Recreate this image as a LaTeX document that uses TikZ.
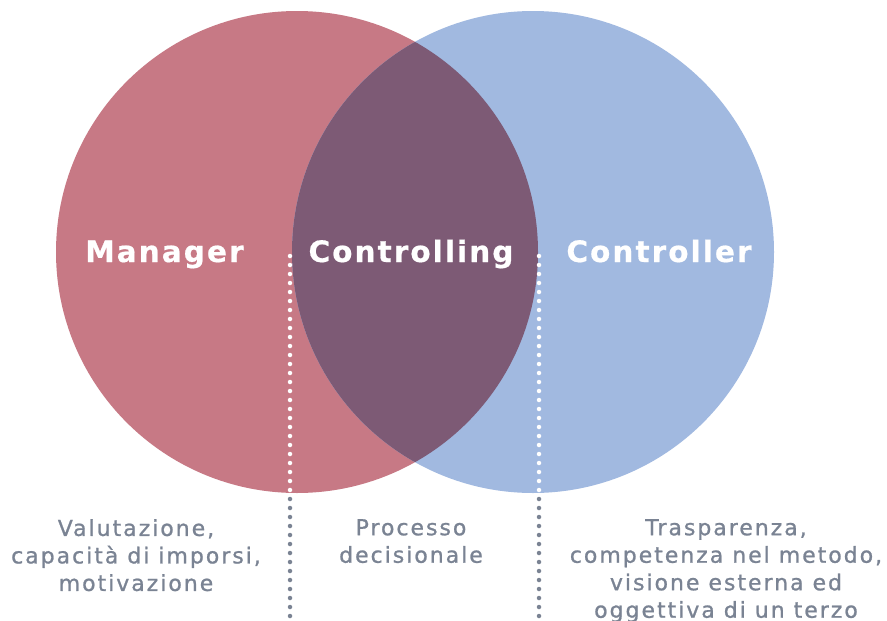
\documentclass[tikz,border=0pt]{standalone}
\usepackage{fontspec}
\usepackage{xcolor}
\usepackage{tikz}
\setmainfont{DejaVu Sans}
\newfontfamily\titlefont[LetterSpace=7,FakeBold=0.6]{DejaVu Sans Bold}
\newfontfamily\notefont[LetterSpace=9,FakeBold=1]{DejaVu Sans}
\definecolor{mgr}{HTML}{C77985}
\definecolor{ctl}{HTML}{A1B9E0}
\definecolor{both}{HTML}{7D5A75}
\definecolor{note}{HTML}{7A8393}
\tikzset{
  disc/.style={line width=0pt},
  title/.style={text=white, font=\titlefont\fontsize{29.5}{29.5}\selectfont, anchor=base, inner sep=0pt},
  notebox/.style={text=note, font=\notefont\fontsize{22}{27.5}\selectfont, align=center, anchor=north, inner sep=0pt},
  dots/.style={line width=4.5pt, line cap=round, dash pattern=on 0pt off 9pt},
  dotin/.style={dots, draw=white},
  dotout/.style={dots, draw=note}
}
\begin{document}
\begin{tikzpicture}[x=1pt,y=-1pt]
  \useasboundingbox (0,0) rectangle (887,621);
  \def\r{241}
  \coordinate (L) at (297,252);
  \coordinate (R) at (533,252);
  % circles and overlap
  \fill[mgr,disc] (L) circle (\r);
  \fill[ctl,disc] (R) circle (\r);
  \begin{scope}
    \clip (L) circle (\r);
    \fill[both,disc] (R) circle (\r);
  \end{scope}
  % dotted guides
  \coordinate (a1) at (290,256);
  \coordinate (a2) at (290,490);
  \coordinate (a3) at (290,499);
  \coordinate (a4) at (290,625);
  \coordinate (b1) at (539,256);
  \coordinate (b2) at (539,490);
  \coordinate (b3) at (539,499);
  \coordinate (b4) at (539,625);
  \draw[dotin] (a1) -- (a2);
  \draw[dotout] (a3) -- (a4);
  \draw[dotin] (b1) -- (b2);
  \draw[dotout] (b3) -- (b4);
  % titles
  \node[title] (manager) at (164.5,262) {Manager};
  \node[title] (controlling) at (411,262) {Controlling};
  \node[title] (controller) at (659,262) {Controller};
  % notes
  \node[notebox] (valut) at (136,519) {Valutazione,\\capacità di imporsi,\\motivazione};
  \node[notebox] (proc) at (411,519) {Processo\\decisionale};
  \node[notebox] (trasp) at (726,519) {Trasparenza,\\competenza nel metodo,\\visione esterna ed\\oggettiva di un terzo};
\end{tikzpicture}
\end{document}
